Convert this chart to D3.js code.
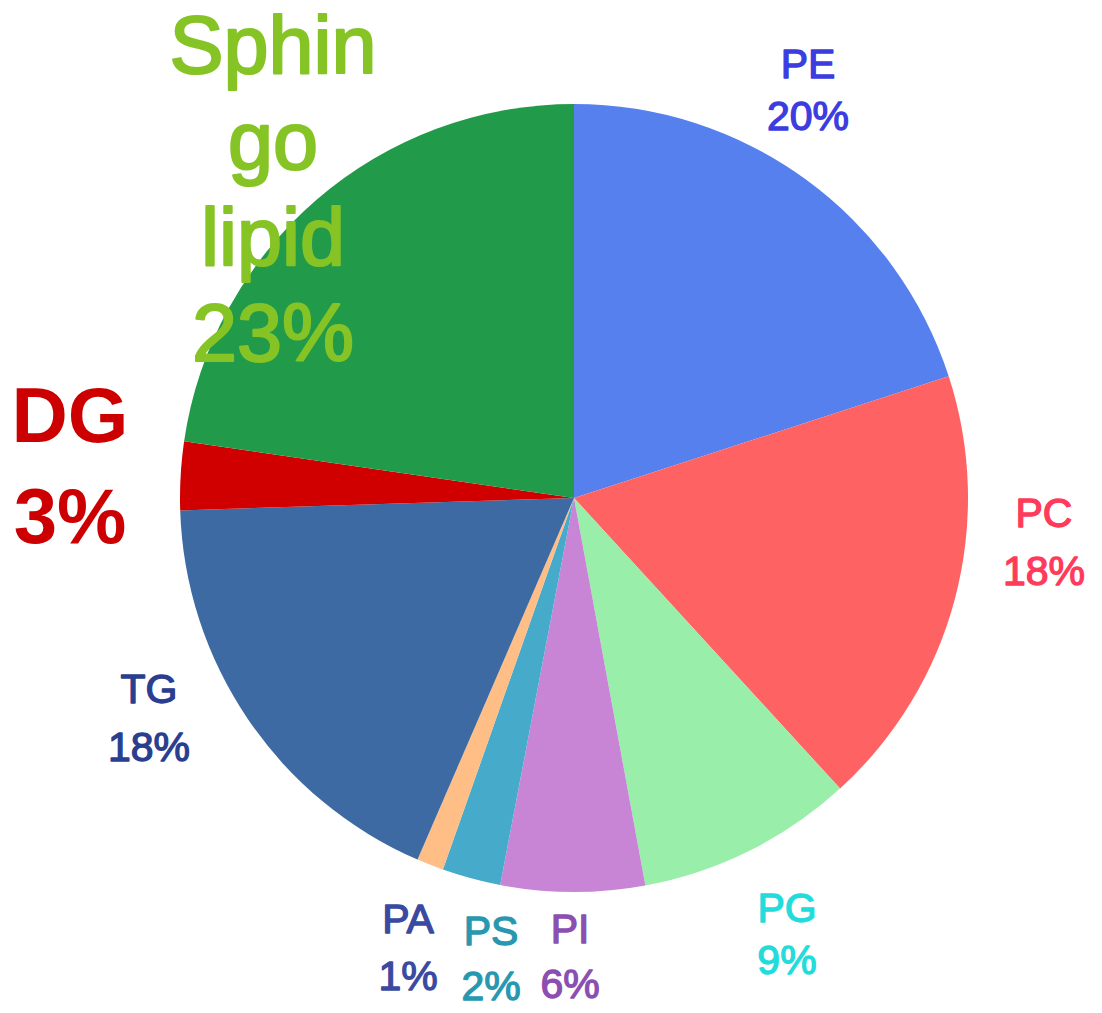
<!DOCTYPE html>
<html>
<head>
<meta charset="utf-8">
<script src="https://cdn.jsdelivr.net/npm/d3@7"></script>
<style>
  html, body { margin: 0; padding: 0; background: #ffffff; }
  svg { display: block; }
  text { font-family: "Liberation Sans", Arial, sans-serif; }
</style>
</head>
<body>
<svg id="chart" width="1102" height="1013"></svg>
<script>
// ---- data ----
const categories = ["PE", "PC", "PG", "PI", "PS", "PA", "TG", "DG", "Sphingolipid"];
const values     = [20.0, 18.2, 8.9, 5.9, 2.4, 1.1, 18.0, 2.8, 22.7];
const labelLines = [["PE"], ["PC"], ["PG"], ["PI"], ["PS"], ["PA"], ["TG"], ["DG"], ["Sphin", "go", "lipid"]];

// ---- styles ----
const sliceColors = ["#5580EE", "#FF6262", "#99EEAA", "#C985D5", "#46AACB", "#FFBE86", "#3D6AA2", "#D00000", "#219A4A"];
const labelColors = ["#3C3CE0", "#FF3A5A", "#22DCDC", "#8A4FB0", "#2898B0", "#3A4AA0", "#2A3E90", "#CC0000", "#86C426"];

// label layout: offset of first baseline from pie centre, font size, weight, line gap, extra stroke
const labelLayout = {
  "PE":           { dx: 234,  dy: -420, size: 41, weight: "normal", gap: 52, sw: 1.3 },
  "PC":           { dx: 470,  dy: 29,   size: 41, weight: "normal", gap: 58, sw: 1.3 },
  "PG":           { dx: 213,  dy: 424,  size: 41, weight: "normal", gap: 52, sw: 1.3 },
  "PI":           { dx: -4,   dy: 445,  size: 41, weight: "normal", gap: 55, sw: 1.3 },
  "PS":           { dx: -83,  dy: 447,  size: 41, weight: "normal", gap: 55, sw: 1.3 },
  "PA":           { dx: -166, dy: 435,  size: 41, weight: "normal", gap: 57, sw: 1.3 },
  "TG":           { dx: -425, dy: 205,  size: 41, weight: "normal", gap: 58, sw: 1.3 },
  "DG":           { dx: -504, dy: -56,  size: 78, weight: "bold",   gap: 101, sw: 0 },
  "Sphingolipid": { dx: -301, dy: -425, size: 81, weight: "normal", gap: 96, sw: 2.2 }
};

const cx = 574, cy = 498, radius = 394;

const svg = d3.select("#chart");
const g = svg.append("g").attr("transform", `translate(${cx},${cy})`);

const data = categories.map((c, i) => ({ name: c, value: values[i], idx: i }));

const pie = d3.pie().value(d => d.value).sort(null);
const arc = d3.arc().innerRadius(0).outerRadius(radius);
const arcs = pie(data);
const total = d3.sum(values);

g.selectAll("path.slice")
  .data(arcs)
  .join("path")
  .attr("class", "slice")
  .attr("d", arc)
  .attr("fill", d => sliceColors[d.data.idx]);

const labels = g.selectAll("text.lbl")
  .data(arcs)
  .join("text")
  .attr("class", "lbl")
  .attr("text-anchor", "middle")
  .attr("fill", d => labelColors[d.data.idx])
  .attr("stroke", d => labelColors[d.data.idx])
  .attr("stroke-width", d => labelLayout[d.data.name].sw)
  .attr("stroke-linejoin", "round")
  .attr("font-size", d => labelLayout[d.data.name].size)
  .attr("font-weight", d => labelLayout[d.data.name].weight)
  .attr("x", d => labelLayout[d.data.name].dx)
  .attr("y", d => labelLayout[d.data.name].dy);

labels.each(function(d) {
  const L = labelLayout[d.data.name];
  const lines = labelLines[d.data.idx].concat([Math.round(d.data.value / total * 100) + "%"]);
  d3.select(this).selectAll("tspan")
    .data(lines)
    .join("tspan")
    .attr("x", L.dx)
    .attr("y", (t, i) => L.dy + i * L.gap)
    .text(t => t);
});
</script>
</body>
</html>
